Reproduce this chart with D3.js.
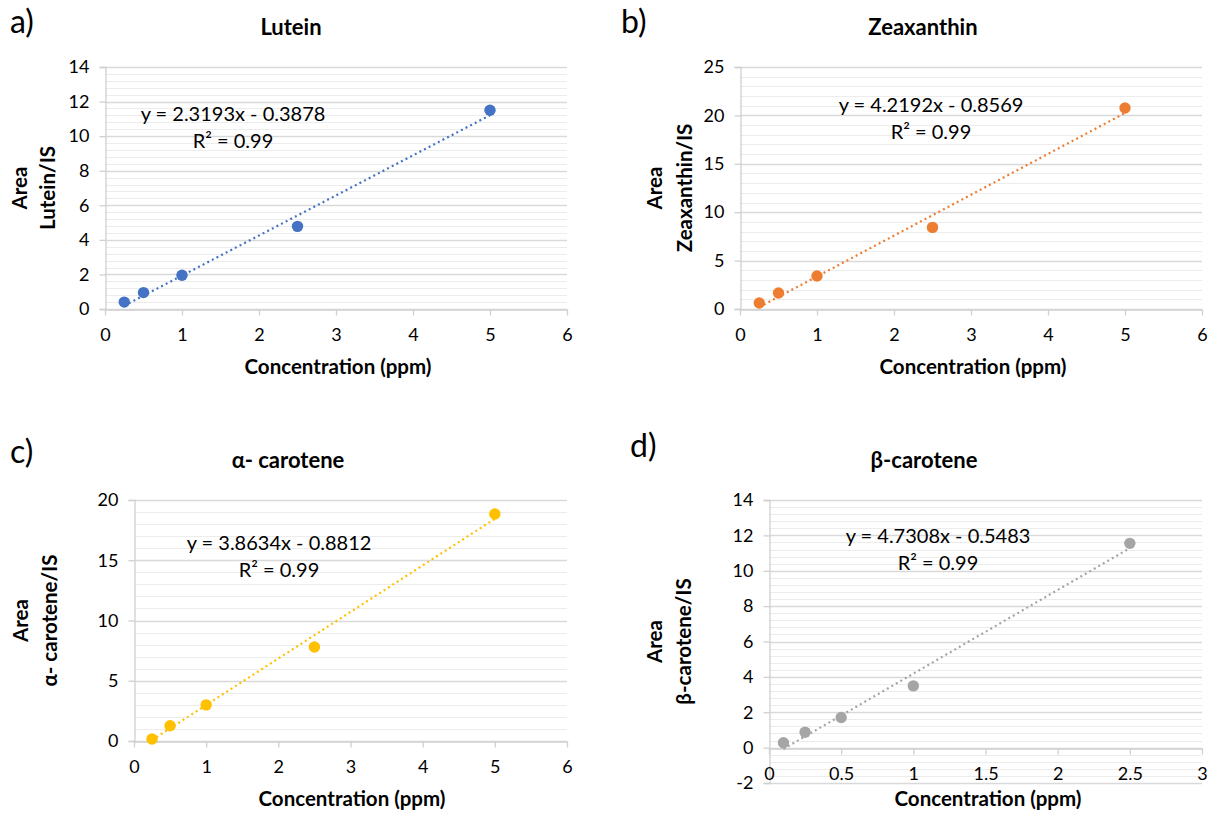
<!DOCTYPE html>
<html>
<head>
<meta charset="utf-8">
<script src="https://cdn.jsdelivr.net/npm/d3@7"></script>
<style>
  body { margin: 0; background: #fff; }
  svg { display: block; }
  text { font-family: Lato, "Open Sans", sans-serif; fill: #000; }
</style>
</head>
<body>
<div id="chart"></div>
<script>
// calibration data
const luteinX = [0.25, 0.5, 1, 2.5, 5]
const luteinY = [0.4, 0.95, 1.95, 4.78, 11.5]
const zeaxanthinX = [0.25, 0.5, 1, 2.5, 5]
const zeaxanthinY = [0.62, 1.65, 3.41, 8.43, 20.76]
const alphaX = [0.25, 0.5, 1, 2.5, 5]
const alphaY = [0.17, 1.27, 3.0, 7.8, 18.84]
const betaX = [0.1, 0.25, 0.5, 1, 2.5]
const betaY = [0.28, 0.87, 1.7, 3.49, 11.55]

// linear trendlines y = a*x + b
const slopes = [2.3193, 4.2192, 3.8634, 4.7308]
const intercepts = [-0.3878, -0.8569, -0.8812, -0.5483]
const r2Labels = ['R² = 0.99', 'R² = 0.99', 'R² = 0.99', 'R² = 0.99']

const titles = ['Lutein', 'Zeaxanthin', 'α- carotene', 'β-carotene']
const letters = ['a)', 'b)', 'c)', 'd)']
const yNames = ['Lutein/IS', 'Zeaxanthin/IS', 'α- carotene/IS', 'β-carotene/IS']
const xTitle = 'Concentration (ppm)'

const xTicks6 = [0, 1, 2, 3, 4, 5, 6]
const xTicks3 = [0, 0.5, 1, 1.5, 2, 2.5, 3]
const yTicksA = [0, 2, 4, 6, 8, 10, 12, 14]
const yTicksB = [0, 5, 10, 15, 20, 25]
const yTicksC = [0, 5, 10, 15, 20]
const yTicksD = [-2, 0, 2, 4, 6, 8, 10, 12, 14]

const COLORS = ['#4472C4', '#ED7D31', '#FFC000', '#A5A5A5']

const WIDTH = 1214
const HEIGHT = 813

const svg = d3.select('#chart')
    .append('svg')
    .attr('width', WIDTH)
    .attr('height', HEIGHT)

const panels = [
    { xs: luteinX, ys: luteinY, xTicks: xTicks6, yTicks: yTicksA, minor: 0.4,
      box: [105, 567, 67, 309], title: [291, 35], letter: [10, 33],
      yLab: [27, 55], xLab: [338, 374], eq: [233, 121, 148] },
    { xs: zeaxanthinX, ys: zeaxanthinY, xTicks: xTicks6, yTicks: yTicksB, minor: 1,
      box: [740, 1202, 67, 309], title: [923, 35], letter: [621, 33],
      yLab: [662, 692], xLab: [973, 374], eq: [931, 112, 139] },
    { xs: alphaX, ys: alphaY, xTicks: xTicks6, yTicks: yTicksC, minor: 1,
      box: [134, 567, 500, 741], title: [288, 468], letter: [10, 463],
      yLab: [28, 57], xLab: [352, 806], eq: [279, 550, 577] },
    { xs: betaX, ys: betaY, xTicks: xTicks3, yTicks: yTicksD, minor: 0.4,
      box: [769, 1202, 500, 783], title: [924, 468], letter: [630, 457],
      yLab: [662, 691], xLab: [988, 806], eq: [938, 543, 570] },
]

const fmt = d3.format('.4f')

panels.forEach((p, i) => {
    const [x0, x1, yTop, yBot] = p.box
    const xDom = d3.extent(p.xTicks)
    const yDom = d3.extent(p.yTicks)
    const x = d3.scaleLinear().domain(xDom).range([x0, x1])
    const y = d3.scaleLinear().domain(yDom).range([yBot, yTop])
    const g = svg.append('g')

    // minor gridlines
    const minorVals = d3.range(yDom[0], yDom[1] + 1e-9, p.minor)
    g.append('g').selectAll('line')
        .data(minorVals)
        .enter()
        .append('line')
        .attr('x1', x0).attr('x2', x1)
        .attr('y1', d => Math.round(y(d)) + 0.5)
        .attr('y2', d => Math.round(y(d)) + 0.5)
        .attr('stroke', '#ececec')
        .attr('stroke-width', 1)

    // major gridlines
    g.append('g').selectAll('line')
        .data(p.yTicks)
        .enter()
        .append('line')
        .attr('x1', x0).attr('x2', x1)
        .attr('y1', d => Math.round(y(d)) + 0.5)
        .attr('y2', d => Math.round(y(d)) + 0.5)
        .attr('stroke', '#d9d9d9')
        .attr('stroke-width', 1.3)

    // y axis (left)
    const yAxis = d3.axisLeft(y)
        .tickValues(p.yTicks)
        .tickSize(6)
        .tickPadding(10)
        .tickFormat(d => String(d))
    const ya = g.append('g')
        .attr('transform', `translate(${x0 + 0.5},0)`)
        .call(yAxis)
    ya.select('.domain').attr('stroke', '#d0d0d0').attr('stroke-width', 1.3)
    ya.selectAll('.tick line').attr('stroke', '#d0d0d0').attr('stroke-width', 1.3)
    ya.selectAll('.tick text')
        .attr('font-size', 18)
        .attr('font-family', 'Lato')
        .attr('fill', '#111')

    // x axis at y = 0
    const xAxis = d3.axisBottom(x)
        .tickValues(p.xTicks)
        .tickSize(6)
        .tickSizeOuter(0)
        .tickPadding(13)
        .tickFormat(d => String(d))
    const xa = g.append('g')
        .attr('transform', `translate(0,${Math.round(y(0)) + 0.5})`)
        .call(xAxis)
    xa.select('.domain').attr('stroke', '#d0d0d0').attr('stroke-width', 1.3)
    xa.selectAll('.tick line').attr('stroke', '#d0d0d0').attr('stroke-width', 1.3)
    xa.selectAll('.tick text')
        .attr('font-size', 18)
        .attr('font-family', 'Lato')
        .attr('fill', '#111')

    // trendline, dotted, across the data range
    const fitX = d3.extent(p.xs)
    g.append('line')
        .attr('x1', x(fitX[0]))
        .attr('y1', y(slopes[i] * fitX[0] + intercepts[i]))
        .attr('x2', x(fitX[1]))
        .attr('y2', y(slopes[i] * fitX[1] + intercepts[i]))
        .attr('stroke', COLORS[i])
        .attr('stroke-width', 2.2)
        .attr('stroke-dasharray', '2,3.2')

    // points
    g.append('g').selectAll('circle')
        .data(p.xs.map((v, k) => [v, p.ys[k]]))
        .enter()
        .append('circle')
        .attr('cx', d => x(d[0]))
        .attr('cy', d => y(d[1]))
        .attr('r', 5.7)
        .attr('fill', COLORS[i])

    // equation
    const sign = intercepts[i] < 0 ? '-' : '+'
    g.append('text')
        .attr('x', p.eq[0]).attr('y', p.eq[1])
        .attr('text-anchor', 'middle')
        .attr('font-size', 20)
        .attr('fill', '#111')
        .text(`y = ${fmt(slopes[i])}x ${sign} ${fmt(Math.abs(intercepts[i]))}`)
    g.append('text')
        .attr('x', p.eq[0]).attr('y', p.eq[2])
        .attr('text-anchor', 'middle')
        .attr('font-size', 20)
        .attr('fill', '#111')
        .text(r2Labels[i])

    // title
    g.append('text')
        .attr('x', p.title[0]).attr('y', p.title[1])
        .attr('text-anchor', 'middle')
        .attr('font-size', 22)
        .attr('font-weight', 'bold')
        .text(titles[i])

    // panel letter
    g.append('text')
        .attr('x', p.letter[0]).attr('y', p.letter[1])
        .attr('font-family', 'Roboto')
        .attr('font-size', 32)
        .attr('fill', '#1a1a1a')
        .text(letters[i])

    // x title
    g.append('text')
        .attr('x', p.xLab[0]).attr('y', p.xLab[1])
        .attr('text-anchor', 'middle')
        .attr('font-size', 20.5)
        .attr('font-weight', 'bold')
        .text(xTitle)

    // y title, two rotated lines
    const cy = (yTop + yBot) / 2
    g.append('text')
        .attr('transform', `translate(${p.yLab[0]},${cy}) rotate(-90)`)
        .attr('text-anchor', 'middle')
        .attr('font-size', 20.5)
        .attr('font-weight', 'bold')
        .text('Area')
    g.append('text')
        .attr('transform', `translate(${p.yLab[1]},${cy}) rotate(-90)`)
        .attr('text-anchor', 'middle')
        .attr('font-size', 20.5)
        .attr('font-weight', 'bold')
        .text(yNames[i])
})
</script>
</body>
</html>
